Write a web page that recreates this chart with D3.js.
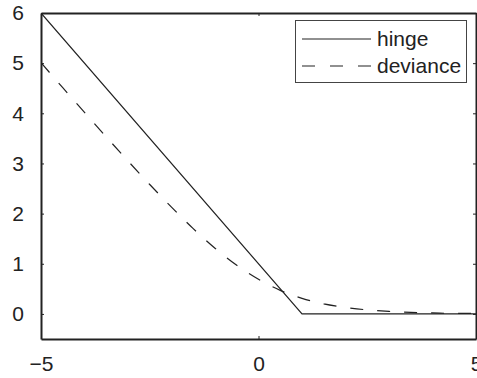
<!DOCTYPE html>
<html>
<head>
<meta charset="utf-8">
<script src="https://cdn.jsdelivr.net/npm/d3@7"></script>
<style>
  body { margin: 0; background: #fff; }
  text { font-family: "Liberation Sans", Arial, sans-serif; fill: #222; }
</style>
</head>
<body>
<div id="viz"></div>
<script>
// data
const hingeX = [-5, 1, 5];
const hingeY = [6, 0, 0];

const devianceX = [-5, -4.5, -4, -3.5, -3, -2.5, -2, -1.5, -1, -0.5, 0, 0.5, 1, 1.5, 2, 2.5, 3, 3.5, 4, 4.5, 5];
const devianceY = [5.01, 4.51, 4.02, 3.53, 3.05, 2.58, 2.13, 1.70, 1.31, 0.97, 0.69, 0.47, 0.31, 0.20, 0.13, 0.08, 0.05, 0.03, 0.02, 0.01, 0.01];

const xTicks = [-5, 0, 5];
const yTicks = [0, 1, 2, 3, 4, 5, 6];
const legendLabels = ["hinge", "deviance"];

const width = 477, height = 378;
const plotLeft = 41, plotRight = 476, plotTop = 13, plotBottom = 339;
const fontSize = 21;

const svg = d3.select('#viz')
  .append('svg')
  .attr('width', width)
  .attr('height', height);

const xScale = d3.scaleLinear()
  .domain([-5, 5])
  .range([plotLeft, plotRight]);

const yScale = d3.scaleLinear()
  .domain([-0.5, 6])
  .range([plotBottom, plotTop]);

const ink = '#222';

// axes, ticks inward on all four sides
svg.append('g')
  .attr('transform', `translate(0,${plotBottom})`)
  .call(d3.axisBottom(xScale).tickValues(xTicks).tickSizeInner(-3).tickSizeOuter(0).tickPadding(17)
    .tickFormat(d => d < 0 ? '\u2212' + Math.abs(d) : d))
  .call(g => g.selectAll('text').attr('font-size', fontSize).style('fill', ink));

svg.append('g')
  .attr('transform', `translate(0,${plotTop})`)
  .call(d3.axisTop(xScale).tickValues(xTicks).tickSizeInner(-3).tickSizeOuter(0).tickFormat(''));

svg.append('g')
  .attr('transform', `translate(${plotLeft},0)`)
  .call(d3.axisLeft(yScale).tickValues(yTicks).tickSizeInner(-3).tickSizeOuter(0).tickPadding(17)
    .tickFormat(d3.format('d')))
  .call(g => g.selectAll('text').attr('font-size', fontSize).style('fill', ink));

svg.append('g')
  .attr('transform', `translate(${plotRight},0)`)
  .call(d3.axisRight(yScale).tickValues(yTicks).tickSizeInner(-3).tickSizeOuter(0).tickFormat(''));

svg.selectAll('.domain').attr('stroke', ink).attr('stroke-width', 2);
svg.selectAll('.tick line').attr('stroke', ink).attr('stroke-width', 1);

// curves
svg.append('clipPath').attr('id', 'plot')
  .append('rect')
  .attr('x', plotLeft).attr('y', plotTop)
  .attr('width', plotRight - plotLeft).attr('height', plotBottom - plotTop);

const line = d3.line()
  .x(d => xScale(d[0]))
  .y(d => yScale(d[1]));

svg.append('path')
  .datum(d3.zip(hingeX, hingeY))
  .attr('clip-path', 'url(#plot)')
  .attr('fill', 'none')
  .attr('stroke', ink)
  .attr('stroke-width', 1.2)
  .attr('d', line);

svg.append('path')
  .datum(d3.zip(devianceX, devianceY))
  .attr('clip-path', 'url(#plot)')
  .attr('fill', 'none')
  .attr('stroke', ink)
  .attr('stroke-width', 1.2)
  .attr('stroke-dasharray', '13,14')
  .attr('d', line.curve(d3.curveMonotoneX));

// legend
const legend = svg.append('g').attr('transform', 'translate(295,20)');

legend.append('rect')
  .attr('x', 0.5).attr('y', 0.5)
  .attr('width', 171).attr('height', 62)
  .attr('fill', '#fff')
  .attr('stroke', '#444')
  .attr('stroke-width', 1);

const items = legend.selectAll('g.item')
  .data(legendLabels)
  .enter()
  .append('g')
  .classed('item', true)
  .attr('transform', (d, i) => `translate(0,${19 + i * 27})`);

items.append('line')
  .attr('x1', 7).attr('x2', 76)
  .attr('stroke', ink)
  .attr('stroke-width', 1.2)
  .attr('stroke-dasharray', (d, i) => i ? '13,15' : null);

items.append('text')
  .attr('x', 82)
  .attr('dy', '0.35em')
  .attr('font-size', fontSize)
  .text(d => d);
</script>
</body>
</html>
